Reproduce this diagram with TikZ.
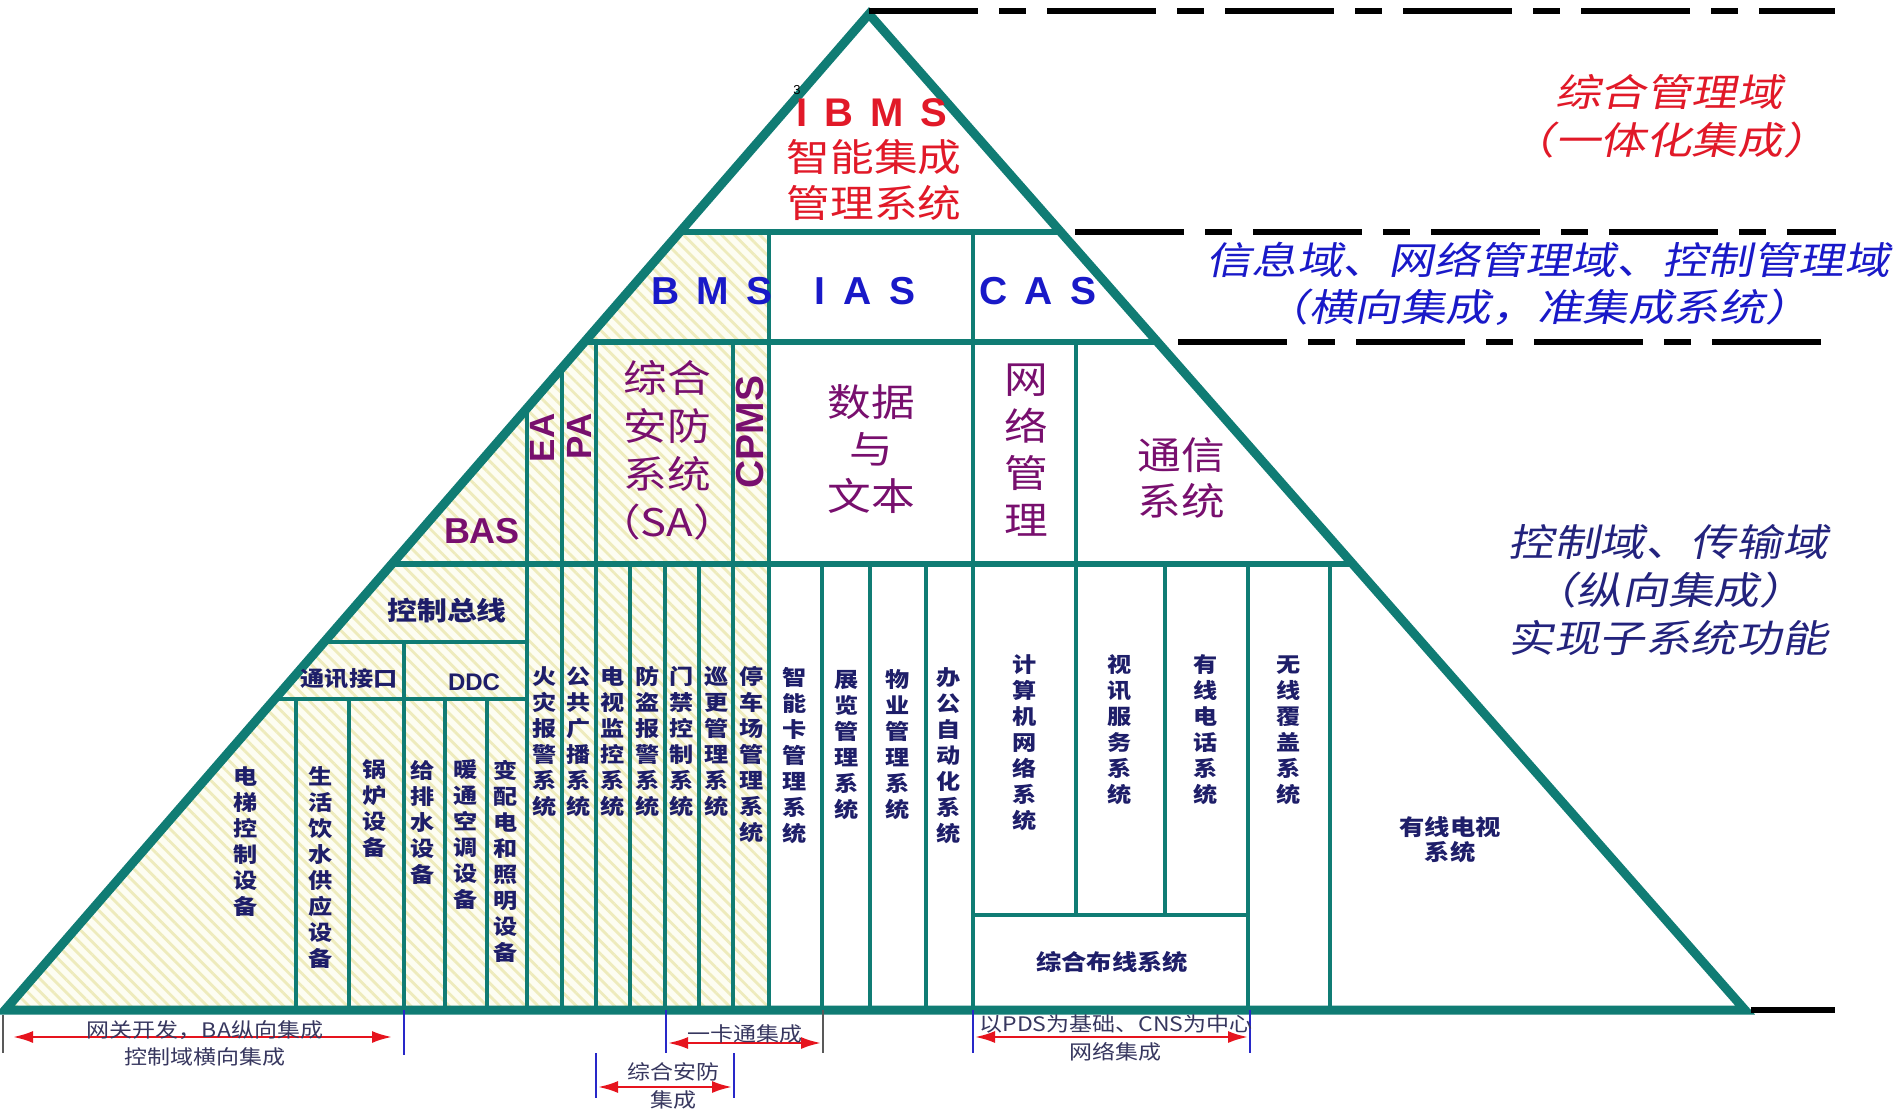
\documentclass[tikz,border=0pt]{standalone}
\usepackage{fontspec}
\setmainfont{Liberation Sans}
\newfontfamily\cjk{Noto Sans CJK SC}[FakeStretch=1.15]
\newfontfamily\cjkit{Noto Sans CJK SC}[FakeStretch=1.2,FakeSlant=0.2]
\usetikzlibrary{arrows.meta,patterns.meta}
\definecolor{teal1}{RGB}{16,124,116}
\definecolor{hatchc}{RGB}{238,235,188}
\definecolor{cream}{RGB}{253,253,242}
\definecolor{ired}{RGB}{225,25,40}
\definecolor{iblue}{RGB}{25,25,200}
\definecolor{ipurp}{RGB}{120,15,110}
\definecolor{inavy}{RGB}{30,30,105}
\definecolor{dnavy}{RGB}{35,35,125}
\definecolor{annot}{RGB}{55,55,95}
\definecolor{arrred}{RGB}{230,20,30}
\definecolor{tickblue}{RGB}{40,40,200}
\begin{document}
\begin{tikzpicture}[x=0.5pt,y=-0.5pt,
  edgeline/.style={draw=teal1,line width=4.5pt,line join=miter,miter limit=10},
  hline/.style={draw=teal1,line width=3pt},
  vline/.style={draw=teal1,line width=1.7pt},
  vlinek/.style={draw=teal1,line width=2.1pt},
  domline/.style={draw=black,line width=2.6pt,dash pattern=on 54.5pt off 10.5pt on 13.5pt off 10.5pt},
  vtext/.style={align=center,inner sep=0pt,text=inavy,font=\cjk\bfseries\fontsize{10.5}{13}\selectfont},
  ptext/.style={align=center,inner sep=0pt,text=ipurp,font=\cjk\fontsize{19}{23.5}\selectfont},
  plat/.style={inner sep=0pt,text=ipurp,font=\bfseries\fontsize{17.5}{17.5}\selectfont},
  bluel/.style={inner sep=0pt,text=iblue,font=\bfseries\fontsize{19.5}{20}\selectfont},
  domtext/.style={align=center,inner sep=0pt,font=\cjkit\fontsize{19}{24}\selectfont},
  anntext/.style={inner sep=0pt,text=annot,font=\cjk\fontsize{10}{12}\selectfont},
  tickb/.style={draw=tickblue,line width=0.8pt},
  tickg/.style={draw=gray!70!black,line width=0.8pt},
  dbl/.style={draw=arrred,line width=1.2pt,{Latex[length=10pt,width=6pt]}-{Latex[length=10pt,width=6pt]}},
]
\useasboundingbox (0,0) rectangle (1893,1117);
\fill[white] (0,0) rectangle (1893,1117);

% corner points
\coordinate (A) at (869,14);
\coordinate (BL) at (5,1010);
\coordinate (BR) at (1745,1010);

% hatched region
\path[preaction={fill=cream},pattern={Lines[angle=-45,distance=4.5pt,line width=1.4pt]},pattern color=hatchc]
  (679.9,232) -- (769,232) -- (769,1010) -- (5,1010) -- cycle;

% horizontal lines
\draw[hline] (679.9,232) -- (1060.7,232);
\draw[hline] (584.5,342) -- (1157.5,342);
\draw[hline] (391.9,564) -- (1352.7,564);
\draw[vline] (324.2,642) -- (527,642);
\draw[vline] (274.8,699) -- (527,699);
\draw[vline] (973,915) -- (1248,915);

% vertical lines
\draw[vlinek] (769,232) -- (769,1010);
\draw[vlinek] (973,232) -- (973,1010);
\draw[vline] (527,408.2) -- (527,1010);
\draw[vline] (562,367.9) -- (562,1010);
\draw[vline] (596,342) -- (596,1010);
\draw[vline] (733,342) -- (733,1010);
\draw[vline] (1076,342) -- (1076,915);
\foreach \xx in {630,665,699,822,870,926,1248,1330}
  \draw[vline] (\xx,564) -- (\xx,1010);
\draw[vline] (1165,564) -- (1165,915);
\draw[vline] (404,642) -- (404,1010);
\foreach \xx in {296,349,445,487}
  \draw[vline] (\xx,699) -- (\xx,1010);

% outline
\draw[edgeline] (A) -- (BR) -- (BL) -- cycle;

% domain boundary lines
\draw[domline] (869,11) -- (1835,11);
\draw[domline] (1075,232) -- (1836,232);
\draw[domline] (1178,342) -- (1821,342);
\draw[draw=black,line width=2.6pt] (1751,1010) -- (1835,1010);

% top layer
\node[inner sep=0pt,font=\fontsize{6.5}{6.5}\selectfont] (glitch) at (797,90) {3};
\node[inner sep=0pt,text=ired,font=\bfseries\fontsize{20}{20}\selectfont] (ibms) at (872,113)
  {I\hspace{0.42em}B\hspace{0.42em}M\hspace{0.42em}S};
\node[align=center,inner sep=0pt,text=ired,font=\cjk\fontsize{19}{23}\selectfont] (ibmscn) at (874,180)
  {智能集成\\管理系统};

% second layer
\node[bluel] (bms) at (712,291) {B\hspace{0.45em}M\hspace{0.45em}S};
\node[bluel] (ias) at (865,291) {I\hspace{0.45em}A\hspace{0.45em}S};
\node[bluel] (cas) at (1038,291) {C\hspace{0.45em}A\hspace{0.45em}S};

% third layer
\node[plat,font=\bfseries\fontsize{18}{18}\selectfont] (bas) at (482,531) {BAS};
\node[plat,rotate=90] (ea) at (542,438) {EA};
\node[plat,rotate=90] (pa) at (579,436) {PA};
\node[plat,rotate=90,font=\bfseries\fontsize{19.5}{19.5}\selectfont] (cpms) at (750,432) {CPMS};
\node[ptext,font=\cjk\fontsize{19}{24}\selectfont] (sa) at (667,450) {综合\\安防\\系统\\（SA）};
\node[ptext] (data) at (871,449) {数据\\与\\文本};
\node[ptext] (netm) at (1026,450) {网\\络\\管\\理};
\node[ptext] (comm) at (1181,478) {通信\\系统};

% BAS lower block
\node[vtext,font=\cjk\bfseries\fontsize{13}{13}\selectfont] (bus) at (447,611) {控制总线};
\node[vtext,font=\cjk\bfseries\fontsize{10.5}{12}\selectfont] (comif) at (349,679) {通讯接口};
\node[vtext,font=\bfseries\fontsize{12}{12}\selectfont] (ddc) at (474,682) {DDC};
\node[vtext] (v1) at (246,842) {电\\梯\\控\\制\\设\\备};
\node[vtext] (v2) at (321,868) {生\\活\\饮\\水\\供\\应\\设\\备};
\node[vtext] (v3) at (375,809) {锅\\炉\\设\\备};
\node[vtext] (v4) at (423,822) {给\\排\\水\\设\\备};
\node[vtext] (v5) at (466,835) {暖\\通\\空\\调\\设\\备};
\node[vtext] (v6) at (506,861) {变\\配\\电\\和\\照\\明\\设\\备};

% subsystem columns
\node[vtext] (c1) at (545,742) {火\\灾\\报\\警\\系\\统};
\node[vtext] (c2) at (579,742) {公\\共\\广\\播\\系\\统};
\node[vtext] (c3) at (613,742) {电\\视\\监\\控\\系\\统};
\node[vtext] (c4) at (648,742) {防\\盗\\报\\警\\系\\统};
\node[vtext] (c5) at (682,742) {门\\禁\\控\\制\\系\\统};
\node[vtext] (c6) at (717,742) {巡\\更\\管\\理\\系\\统};
\node[vtext] (c7) at (752,755) {停\\车\\场\\管\\理\\系\\统};
\node[vtext] (c8) at (795,756) {智\\能\\卡\\管\\理\\系\\统};
\node[vtext] (c9) at (847,745) {展\\览\\管\\理\\系\\统};
\node[vtext] (c10) at (898,745) {物\\业\\管\\理\\系\\统};
\node[vtext] (c11) at (949,756) {办\\公\\自\\动\\化\\系\\统};
\node[vtext] (c12) at (1025,743) {计\\算\\机\\网\\络\\系\\统};
\node[vtext] (c13) at (1120,730) {视\\讯\\服\\务\\系\\统};
\node[vtext] (c14) at (1206,730) {有\\线\\电\\话\\系\\统};
\node[vtext] (c15) at (1289,730) {无\\线\\覆\\盖\\系\\统};
\node[vtext,font=\cjk\bfseries\fontsize{11}{12.5}\selectfont] (catv) at (1450,840) {有线电视\\系统};
\node[vtext,font=\cjk\bfseries\fontsize{11}{12}\selectfont] (pds) at (1112,962) {综合布线系统};

% domain texts
\node[domtext,text=ired] (d1) at (1669,116) {综合管理域\\（一体化集成）};
\node[domtext,text=iblue,font=\cjkit\fontsize{19}{19}\selectfont] (d2a) at (1548,260) {信息域、网络管理域、控制管理域};
\node[domtext,text=iblue,font=\cjkit\fontsize{19}{19}\selectfont] (d2b) at (1537,307) {（横向集成，准集成系统）};
\node[domtext,text=dnavy] (d3) at (1668,590) {控制域、传输域\\（纵向集成）\\实现子系统功能};

% bottom annotations: ticks
\coordinate (t1a) at (3,1015);   \coordinate (t1b) at (3,1053);
\coordinate (t2a) at (404,1010); \coordinate (t2b) at (404,1055);
\coordinate (t3a) at (666,1010); \coordinate (t3b) at (666,1053);
\coordinate (t4a) at (823,1010); \coordinate (t4b) at (823,1053);
\coordinate (t5a) at (596,1053); \coordinate (t5b) at (596,1098);
\coordinate (t6a) at (734,1053); \coordinate (t6b) at (734,1098);
\coordinate (t7a) at (973,1010); \coordinate (t7b) at (973,1053);
\coordinate (t8a) at (1250,1010); \coordinate (t8b) at (1250,1053);
\draw[tickg] (t1a) -- (t1b);
\draw[tickb] (t2a) -- (t2b);
\draw[tickb] (t3a) -- (t3b);
\draw[tickg] (t4a) -- (t4b);
\draw[tickb] (t5a) -- (t5b);
\draw[tickb] (t6a) -- (t6b);
\draw[tickb] (t7a) -- (t7b);
\draw[tickb] (t8a) -- (t8b);

% arrows
\coordinate (a1l) at (13,1037);  \coordinate (a1r) at (392,1037);
\coordinate (a2l) at (668,1043); \coordinate (a2r) at (821,1043);
\coordinate (a3l) at (598,1087); \coordinate (a3r) at (732,1087);
\coordinate (a4l) at (975,1037); \coordinate (a4r) at (1248,1037);
\draw[dbl] (a1l) -- (a1r);
\draw[dbl] (a2l) -- (a2r);
\draw[dbl] (a3l) -- (a3r);
\draw[dbl] (a4l) -- (a4r);

\node[anntext] (n1a) at (205,1030) {网关开发，BA纵向集成};
\node[anntext] (n1b) at (205,1057) {控制域横向集成};
\node[anntext] (n2) at (745,1034) {一卡通集成};
\node[anntext] (n3a) at (673,1072) {综合安防};
\node[anntext] (n3b) at (673,1100) {集成};
\node[anntext] (n4a) at (1116,1024) {以PDS为基础、CNS为中心};
\node[anntext] (n4b) at (1115,1052) {网络集成};
\end{tikzpicture}
\end{document}
